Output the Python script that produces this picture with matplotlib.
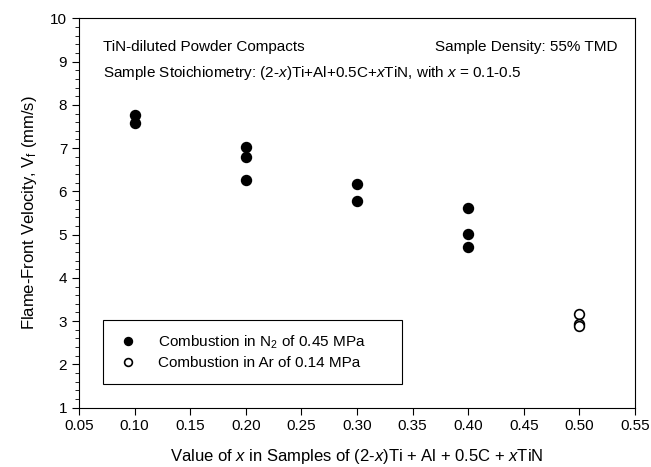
import numpy as np
from matplotlib import pyplot as plt
from matplotlib.ticker import MultipleLocator

plt.rcParams['font.family'] = ['Liberation Sans', 'DejaVu Sans']
plt.rcParams['mathtext.fontset'] = 'custom'
plt.rcParams['mathtext.it'] = 'Liberation Sans:italic'
plt.rcParams['mathtext.rm'] = 'Liberation Sans'

# combustion in N2
x_n2 = [0.1, 0.1, 0.2, 0.2, 0.2, 0.3, 0.3, 0.4, 0.4, 0.4]
v_n2 = [7.77, 7.58, 7.03, 6.80, 6.27, 6.18, 5.78, 5.61, 5.01, 4.72]
# combustion in Ar
x_ar = [0.5, 0.5, 0.5]
v_ar = [3.17, 2.93, 2.88]

fig = plt.figure(figsize=(6.51, 4.67), dpi=100)
ax = fig.add_axes([0.1214, 0.1272, 0.854, 0.8334])

ax.plot(x_n2, v_n2, 'o', color='black', markersize=7.2, linestyle='none',
        label='Combustion in N$_2$ of 0.45 MPa')
ax.plot(x_ar, v_ar, 'o', markerfacecolor='white', markeredgecolor='black',
        markeredgewidth=1.2, markersize=7, linestyle='none',
        label='Combustion in Ar of 0.14 MPa')

ax.set_xlim(0.05, 0.55)
ax.set_ylim(1, 10)
ax.xaxis.set_major_locator(MultipleLocator(0.05))
ax.yaxis.set_major_locator(MultipleLocator(1))
ax.yaxis.set_minor_locator(MultipleLocator(0.2))
ax.xaxis.set_major_formatter(plt.FormatStrFormatter('%.2f'))
ax.tick_params(axis='both', which='major', direction='out', length=5,
               labelsize=11, top=False, right=False)
ax.tick_params(axis='y', which='minor', direction='out', length=3, right=False)

ax.set_xlabel('Value of $x$ in Samples of (2-$x$)Ti + Al + 0.5C + $x$TiN',
              fontsize=12, labelpad=10)
ax.set_ylabel('Flame-Front Velocity, V$_\\mathrm{f}$ (mm/s)', fontsize=12, labelpad=8)

ax.text(0.043, 0.926, 'TiN-diluted Powder Compacts', transform=ax.transAxes,
        fontsize=11, va='center', ha='left')
ax.text(0.969, 0.926, 'Sample Density: 55% TMD', transform=ax.transAxes,
        fontsize=11, va='center', ha='right')
ax.text(0.043, 0.859, 'Sample Stoichiometry: (2-$x$)Ti+Al+0.5C+$x$TiN, with $x$ = 0.1-0.5',
        transform=ax.transAxes, fontsize=11, va='center', ha='left')

leg = ax.legend(loc='lower left', bbox_to_anchor=(0.043, 0.0606, 0.538, 0.175),
                mode='expand', fancybox=False, edgecolor='black', fontsize=11,
                handletextpad=1.2, borderpad=0.9, labelspacing=0.35,
                borderaxespad=0, framealpha=1, handlelength=1.5,
                markerscale=0.8)
leg.get_frame().set_linewidth(0.8)

fig.savefig('out.png', dpi=100)
